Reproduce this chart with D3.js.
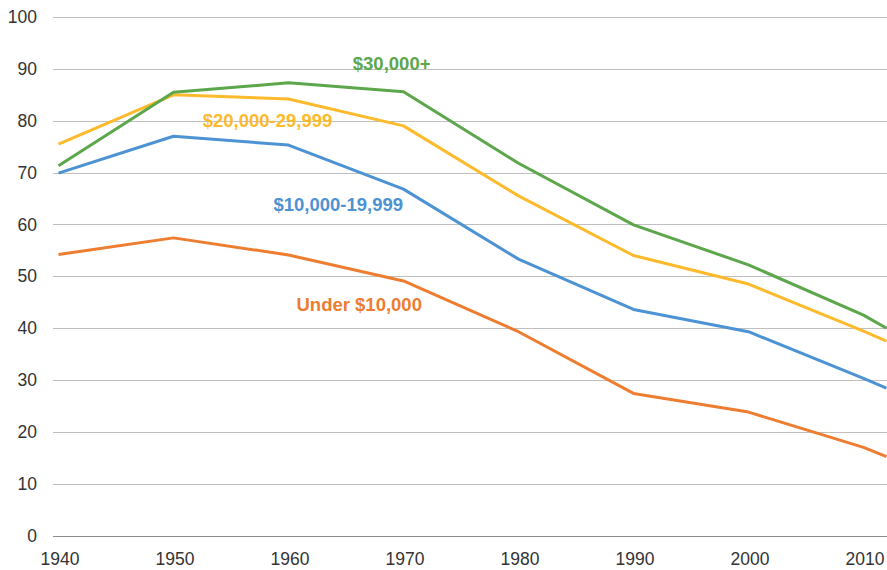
<!DOCTYPE html>
<meta charset="utf-8">
<script src="https://d3js.org/d3.v7.min.js"></script>
<style>
  body { margin: 0; background: #fff; }
  text { font-family: "Liberation Sans", Arial, sans-serif; }
</style>
<div id="chart"></div>
<script>
// years along the x axis (last point is 2012)
var years = [1940, 1950, 1960, 1970, 1980, 1990, 2000, 2010, 2012];
var xTicks = [1940, 1950, 1960, 1970, 1980, 1990, 2000, 2010];
var yTicks = [0, 10, 20, 30, 40, 50, 60, 70, 80, 90, 100];

// series values
var under10k  = [54.2, 57.4, 54.1, 49.1, 39.3, 27.4, 23.8, 17.0, 15.2];
var from10k   = [69.9, 77.0, 75.3, 66.8, 53.3, 43.6, 39.3, 30.3, 28.4];
var from20k   = [75.5, 85.0, 84.2, 79.0, 65.5, 54.0, 48.5, 39.4, 37.5];
var over30k   = [71.3, 85.5, 87.3, 85.6, 71.8, 59.9, 52.2, 42.5, 40.0];

var seriesNames = ["Under $10,000", "$10,000-19,999", "$20,000-29,999", "$30,000+"];
var seriesValues = [under10k, from10k, from20k, over30k];
var colors = ["#ed7d31", "#4d93d3", "#fcba2c", "#5ca64b"];
// label centre points (year, value) for the in-chart labels
var labelYears = [1966.15, 1964.33, 1958.17, 1968.97];
var labelVals  = [43.3, 62.64, 78.84, 89.78];

var W = 887, H = 570;
var svg = d3.select("#chart").append("svg")
    .attr("width", W)
    .attr("height", H);

var x = d3.scaleLinear().domain([1940, 2012]).range([58.5, 886.5]);
var y = d3.scaleLinear().domain([0, 100]).range([535.5, 17]);

// horizontal grid lines
svg.append("g")
  .selectAll("line")
  .data(yTicks)
  .enter().append("line")
    .attr("x1", 53)
    .attr("x2", W)
    .attr("y1", d => Math.round(y(d)) + 0.5)
    .attr("y2", d => Math.round(y(d)) + 0.5)
    .attr("stroke", d => d === 0 ? "#8c8c8c" : "#bfbfbf")
    .attr("stroke-width", 1);

// y tick labels
svg.append("g")
  .selectAll("text")
  .data(yTicks)
  .enter().append("text")
    .attr("x", 37)
    .attr("y", d => y(d))
    .attr("dy", "0.35em")
    .attr("text-anchor", "end")
    .attr("font-size", "17.5px")
    .attr("fill", "#333")
    .text(d => d);

// x tick labels
svg.append("g")
  .selectAll("text")
  .data(xTicks)
  .enter().append("text")
    .attr("x", d => x(d) + 1.5)
    .attr("y", 565)
    .attr("text-anchor", "middle")
    .attr("font-size", "17.5px")
    .attr("fill", "#333")
    .text(d => d);

var line = d3.line()
    .x((d, i) => x(years[i]))
    .y(d => y(d));

svg.append("g")
  .selectAll("path")
  .data(seriesValues)
  .enter().append("path")
    .attr("d", d => line(d))
    .attr("fill", "none")
    .attr("stroke", (d, i) => colors[i])
    .attr("stroke-width", 3)
    .attr("stroke-linejoin", "round");

// series labels
svg.append("g")
  .selectAll("text")
  .data(seriesNames)
  .enter().append("text")
    .attr("x", (d, i) => x(labelYears[i]))
    .attr("y", (d, i) => y(labelVals[i]))
    .attr("text-anchor", "middle")
    .attr("font-size", "18.5px")
    .attr("font-weight", "bold")
    .attr("fill", (d, i) => colors[i])
    .text(d => d);
</script>
